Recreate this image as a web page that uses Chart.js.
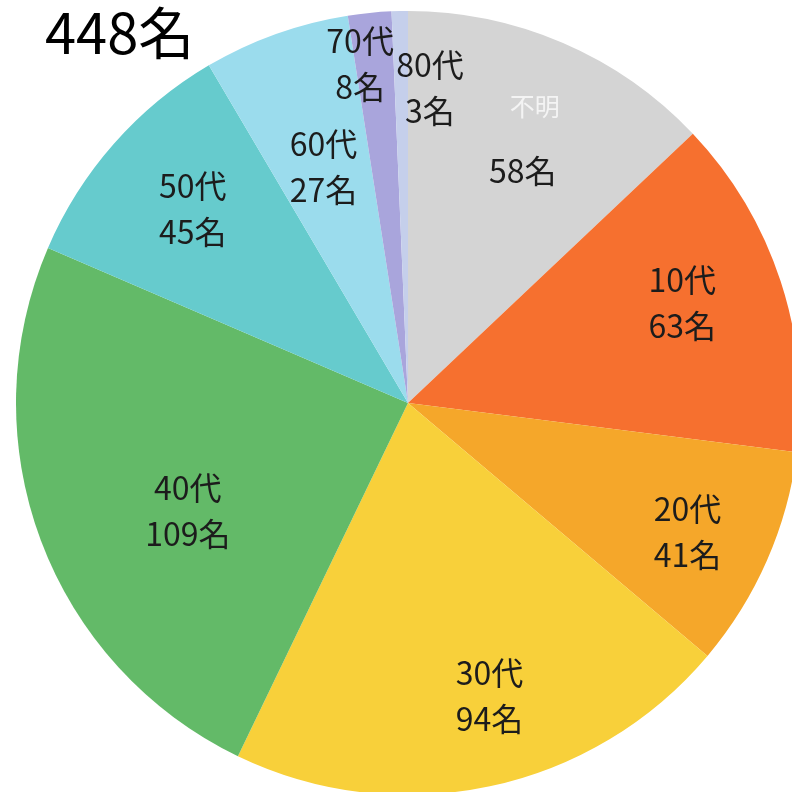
<!DOCTYPE html>
<html>
<head>
<meta charset="utf-8">
<script src="https://cdn.jsdelivr.net/npm/chart.js@4.4.1/dist/chart.umd.min.js"></script>
<style>
  html, body { margin: 0; padding: 0; background: #ffffff; overflow: hidden; width: 792px; height: 792px; }
  #wrap { position: absolute; left: 16px; top: 11px; width: 784px; height: 784px; }
  #total { position: absolute; left: 45px; top: -4px; font-family: "Noto Sans CJK JP", sans-serif; font-size: 56px; color: #000; z-index: 2; line-height: 1.2; }
</style>
</head>
<body>
<div id="total">448名</div>
<div id="wrap"><canvas id="c"></canvas></div>
<script>
// Age groups, clockwise from 12 o'clock
const categories = ['不明', '10代', '20代', '30代', '40代', '50代', '60代', '70代', '80代'];
const counts = [58, 63, 41, 94, 109, 45, 27, 8, 3];
const sliceColors = ['#d4d4d4', '#f6702f', '#f5a72a', '#f8d03a', '#63ba68', '#66cbcd', '#9bdced', '#a9a5dc', '#c5cfeb'];

// Label placement: radial fraction of the radius and angular nudge (degrees)
const labelRadius = [0.66, 0.745, 0.785, 0.775, 0.625, 0.74, 0.64, 0.875, 0.805];
const labelTurn = [3, -2, 1, -3.5, -5.5, 0.7, 0, -2.4, 5.2];

const sliceLabels = {
  id: 'sliceLabels',
  afterDatasetsDraw(chart) {
    const ctx = chart.ctx;
    const meta = chart.getDatasetMeta(0);
    ctx.save();
    ctx.textAlign = 'center';
    ctx.textBaseline = 'middle';
    meta.data.forEach((arc, i) => {
      const { x, y, startAngle, endAngle, outerRadius } = arc.getProps(['x', 'y', 'startAngle', 'endAngle', 'outerRadius'], true);
      const mid = (startAngle + endAngle) / 2 + labelTurn[i] * Math.PI / 180;
      const r = outerRadius * labelRadius[i];
      const lx = x + Math.cos(mid) * r;
      const ly = y + Math.sin(mid) * r;
      ctx.font = '32px "Noto Sans CJK JP", sans-serif';
      if (i === 0) {
        // unknown group: name in white, count separately below
        ctx.fillStyle = '#f4f4f4';
        ctx.font = '25px "Noto Sans CJK JP", sans-serif';
        ctx.fillText(categories[i], lx + 12, ly - 65);
        ctx.font = '32px "Noto Sans CJK JP", sans-serif';
        ctx.fillStyle = '#1c1c1c';
        ctx.fillText(counts[i] + '名', lx, ly);
      } else {
        ctx.fillStyle = '#1c1c1c';
        ctx.fillText(categories[i], lx, ly - 23);
        ctx.fillText(counts[i] + '名', lx, ly + 23);
      }
    });
    ctx.restore();
  }
};

new Chart(document.getElementById('c'), {
  type: 'pie',
  data: {
    labels: categories,
    datasets: [{
      data: counts,
      backgroundColor: sliceColors,
      borderWidth: 0
    }]
  },
  options: {
    responsive: true,
    maintainAspectRatio: false,
    animation: false,
    layout: { padding: 0 },
    plugins: {
      legend: { display: false },
      tooltip: { enabled: false }
    }
  },
  plugins: [sliceLabels]
});
</script>
</body>
</html>
